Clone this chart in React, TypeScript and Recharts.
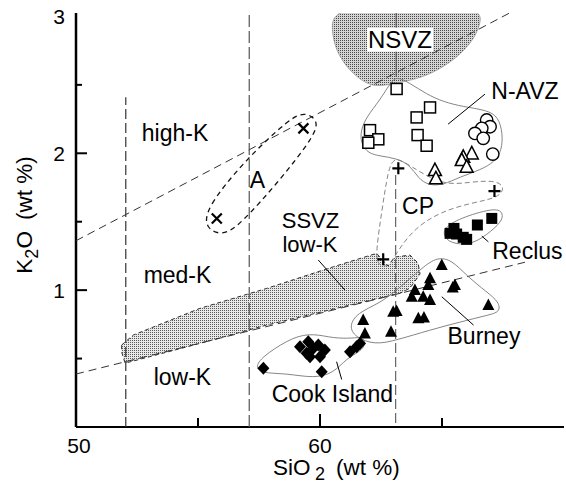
import React from "react";
import { ScatterChart, Scatter, XAxis, YAxis, Curve } from "recharts";

type Pt = { x: number; y: number };
const P = (a: number[][]): Pt[] => a.map(([x, y]) => ({ x, y }));

// SiO2 (wt %) on x, K2O (wt %) on y

// N-AVZ samples
const navzSquares = P([
  [63.14, 2.47], [64.51, 2.335], [63.96, 2.262], [62.05, 2.169],
  [62.39, 2.102], [61.98, 2.077], [64.0, 2.133], [64.37, 2.055],
]);
const navzCircles = P([
  [66.83, 2.243], [66.97, 2.194], [66.63, 2.182], [66.35, 2.145], [66.69, 2.109], [67.08, 1.994],
]);
const navzTriangles = P([
  [66.22, 1.999], [65.87, 1.974], [65.81, 1.95], [66.01, 1.901], [64.71, 1.877], [64.75, 1.817],
]);
// CP
const cpPlus = P([[63.21, 1.89], [67.15, 1.724], [62.59, 1.225]]);
// A
const aCross = P([[59.32, 2.182], [55.77, 1.524]]);
// Reclus
const reclus = P([
  [67.04, 1.524], [66.45, 1.476], [65.49, 1.451], [65.33, 1.415], [65.6, 1.41], [65.87, 1.386], [66.01, 1.371],
]);
// Burney
const burney = P([
  [64.99, 1.183], [64.51, 1.086], [64.44, 1.037], [65.53, 1.037], [65.44, 1.02], [63.89, 1.001],
  [63.76, 0.952], [64.23, 0.952], [64.51, 0.928], [66.9, 0.891], [63.0, 0.842], [63.14, 0.847],
  [64.03, 0.794], [64.26, 0.801], [61.77, 0.782], [62.91, 0.696], [61.84, 0.684],
]);
// Cook Island
const cookIsland = P([
  [57.68, 0.429], [59.18, 0.587], [59.52, 0.623], [59.73, 0.575], [59.45, 0.538], [59.93, 0.599],
  [60.2, 0.562], [59.59, 0.514], [60.0, 0.514], [60.07, 0.404], [61.23, 0.55], [61.5, 0.587], [61.64, 0.611],
]);

// field outlines
const nsvzField = P([
  [60.55, 3.1], [60.45, 2.9], [60.7, 2.72], [61.4, 2.565], [62.18, 2.481], [62.87, 2.505],
  [63.81, 2.535], [64.63, 2.586], [65.6, 2.693], [66.3, 2.83], [66.6, 2.95], [66.6, 3.1],
]);
const ssvzField = P([
  [51.87, 0.599], [52.35, 0.672], [55.08, 0.867], [57.82, 1.013], [60.55, 1.171], [62.32, 1.269],
  [62.79, 1.176], [63.07, 1.242], [63.69, 1.256], [64.02, 1.198], [64.1, 1.118], [63.69, 1.015],
  [63.28, 0.977], [60.55, 0.862], [57.82, 0.745], [55.08, 0.611], [52.35, 0.482], [52.01, 0.467], [51.87, 0.548],
]);
const navzField = P([
  [63.14, 2.564], [63.69, 2.511], [64.37, 2.432], [65.05, 2.376], [65.87, 2.34], [66.83, 2.316],
  [67.31, 2.267], [67.49, 2.145], [67.45, 2.023], [67.17, 1.938], [66.56, 1.877], [65.74, 1.828],
  [65.05, 1.768], [64.44, 1.766], [64.03, 1.817], [63.69, 1.914], [63.14, 1.963], [62.46, 1.98],
  [61.98, 1.999], [61.67, 2.072], [61.67, 2.169], [61.91, 2.267], [62.46, 2.389], [62.87, 2.511],
]);
const cpField = P([
  [62.99, 1.95], [63.28, 1.965], [64.92, 1.76], [66.15, 1.79], [67.25, 1.804], [67.58, 1.746],
  [67.3, 1.673], [66.15, 1.636], [64.92, 1.57], [63.89, 1.454], [63.2, 1.293], [62.79, 1.161],
  [62.34, 1.183], [62.3, 1.293], [62.54, 1.585], [62.79, 1.877],
]);
const reclusField = P([
  [65.12, 1.463], [65.87, 1.536], [67.24, 1.605], [67.51, 1.561], [67.45, 1.5],
  [66.83, 1.402], [66.15, 1.329], [65.33, 1.342], [65.05, 1.402],
]);
const burneyField = P([
  [64.8, 1.242], [65.41, 1.22], [66.02, 1.103], [66.84, 0.986], [67.34, 0.913], [67.38, 0.84],
  [66.89, 0.818], [65.74, 0.767], [64.51, 0.709], [63.16, 0.636], [62.25, 0.599], [61.43, 0.657],
  [61.19, 0.738], [61.52, 0.833], [62.46, 0.906], [63.16, 1.001], [64.22, 1.169],
]);
const cookField = P([
  [57.34, 0.453], [57.82, 0.538], [58.91, 0.66], [59.73, 0.684], [60.55, 0.648], [61.36, 0.648],
  [61.71, 0.66], [61.91, 0.611], [61.64, 0.55], [61.09, 0.502], [60.55, 0.392], [59.73, 0.356],
  [58.64, 0.392], [57.54, 0.392],
]);
const aField = P([
  [55.29, 1.454], [55.33, 1.6], [56.93, 1.95], [58.77, 2.257], [59.39, 2.301],
  [59.92, 2.243], [59.8, 2.133], [58.36, 1.804], [56.72, 1.476], [55.98, 1.395],
]);

// classification boundaries
const highMedK = P([[50, 1.361], [67.77, 3.025]]);
const medLowK = P([[50, 0.387], [68.4, 1.204]]);
const si52 = P([[52.04, 0], [52.04, 2.41]]);
const si57 = P([[57.1, 0], [57.1, 3.025]]);
const si63 = P([[63.1, 0.03], [63.1, 1.85]]);
const si63Top = P([[63.12, 3.025], [63.12, 2.56]]);

// label leaders
const leaders = [
  P([[65.25, 2.213], [66.76, 2.432]]),
  P([[59.93, 1.22], [61.02, 1.001]]),
  P([[66.63, 1.395], [66.9, 1.353]]),
  P([[64.99, 0.952], [66.29, 0.745]]),
  P([[60.68, 0.477], [60.89, 0.347]]),
];

const fieldLabels = [
  { x: 54.06, y: 2.15, text: "high-K" },
  { x: 54.16, y: 1.11, text: "med-K" },
  { x: 54.36, y: 0.365, text: "low-K" },
  { x: 57.44, y: 1.81, text: "A" },
  { x: 64.02, y: 1.62, text: "CP" },
  { x: 68.5, y: 1.29, text: "Reclus" },
  { x: 66.72, y: 0.665, text: "Burney" },
  { x: 60.51, y: 0.24, text: "Cook Island" },
  { x: 68.4, y: 2.46, text: "N-AVZ" },
  { x: 59.61, y: 1.51, text: "SSVZ" },
  { x: 59.59, y: 1.335, text: "low-K" },
  { x: 63.28, y: 2.83, text: "NSVZ" },
];

const xTicks = [50, 55, 60, 65, 70];
const yTicks = [0, 0.5, 1, 1.5, 2, 2.5, 3];

const FONT = '"Liberation Sans", Arial, Helvetica, sans-serif';

const none = () => <g />;

const stipple = (id: string, light: string, dark: string) => (
  <defs>
    <pattern id={id} width={2} height={2} patternUnits="userSpaceOnUse">
      <rect width={2} height={2} fill={light} />
      <rect width={1} height={1} fill={dark} />
    </pattern>
  </defs>
);

type OutlineStyle = {
  type?: string;
  fill?: string;
  stroke?: string;
  width?: number;
  dash?: string;
  defs?: React.ReactNode;
};

const outline = (s: OutlineStyle) => (p: any) => (
  <g>
    {s.defs}
    <Curve
      points={p.points}
      type={(s.type ?? "basisClosed") as any}
      fill={s.fill ?? "none"}
      stroke={s.stroke ?? "#000"}
      strokeWidth={s.width ?? 1}
      strokeDasharray={s.dash}
    />
  </g>
);

const marker = (kind: string) => (p: any) => {
  const { cx, cy } = p;
  if (cx == null || cy == null) return <g />;
  switch (kind) {
    case "openSquare":
      return <rect x={cx - 5.5} y={cy - 5.5} width={11} height={11} fill="#fff" stroke="#000" strokeWidth={1.5} />;
    case "openCircle":
      return <circle cx={cx} cy={cy} r={6.2} fill="#fff" stroke="#000" strokeWidth={1.4} />;
    case "openTriangle":
      return (
        <path d={`M${cx},${cy - 7} L${cx + 6.5},${cy + 5.5} L${cx - 6.5},${cy + 5.5} Z`} fill="#fff" stroke="#000" strokeWidth={1.5} />
      );
    case "plus":
      return <path d={`M${cx - 6},${cy} H${cx + 6} M${cx},${cy - 6} V${cy + 6}`} stroke="#000" strokeWidth={2.2} />;
    case "cross":
      return (
        <path d={`M${cx - 5},${cy - 5} L${cx + 5},${cy + 5} M${cx + 5},${cy - 5} L${cx - 5},${cy + 5}`} stroke="#000" strokeWidth={2.2} />
      );
    case "square":
      return <rect x={cx - 5.5} y={cy - 5.5} width={11} height={11} fill="#000" />;
    case "triangle":
      return <path d={`M${cx},${cy - 6.5} L${cx + 6},${cy + 5} L${cx - 6},${cy + 5} Z`} fill="#000" />;
    default:
      return <path d={`M${cx},${cy - 6.5} L${cx + 6},${cy} L${cx},${cy + 6.5} L${cx - 6},${cy} Z`} fill="#000" />;
  }
};

const labelShape = (p: any) => {
  const { cx, cy } = p;
  const text = p.payload?.text ?? p.text;
  const boxed = text === "NSVZ";
  const tight = text === "SSVZ" || (text === "low-K" && cx > 250);
  return (
    <g>
      {boxed && <rect x={cx - 33} y={cy - 12} width={66} height={24} fill="#fff" />}
      <text
        x={cx}
        y={cy}
        dy="0.36em"
        textAnchor="middle"
        fontSize={boxed ? 24 : tight ? 22 : 23}
        fontFamily={FONT}
        fill="#000"
      >
        {text}
      </text>
    </g>
  );
};

const XTick = (p: any) => {
  const { x, y, payload } = p;
  const v = payload.value;
  return (
    <g>
      {v > 50 && v < 70 && <line x1={x} x2={x} y1={y} y2={y - (v === 60 ? 13 : 9)} stroke="#000" strokeWidth={2} />}
      {(v === 50 || v === 60) && (
        <text x={x + (v === 50 ? 3 : 0)} y={y + 26} textAnchor="middle" fontSize={21} fontFamily={FONT} fill="#000">
          {v}
        </text>
      )}
    </g>
  );
};

const YTick = (p: any) => {
  const { x, y, payload } = p;
  const v = payload.value;
  const major = Number.isInteger(v);
  return (
    <g>
      {v > 0 && v < 3 && <line x1={x} x2={x + (major ? 11 : 6)} y1={y} y2={y} stroke="#000" strokeWidth={2} />}
      {major && v > 0 && (
        <text x={x - 17} y={y} dy="0.36em" textAnchor="middle" fontSize={21} fontFamily={FONT} fill="#000">
          {v}
        </text>
      )}
    </g>
  );
};

const XTitle = (p: any) => {
  const vb = p.viewBox;
  return (
    <text x={vb.x + 197} y={vb.y + 48} fontSize={22.5} fontFamily={FONT} fill="#000">
      SiO
      <tspan dx={4.5} dy={5} fontSize={18}>2</tspan>
      <tspan dx={11} dy={-5}>(wt %)</tspan>
    </text>
  );
};

const YTitle = (p: any) => {
  const vb = p.viewBox;
  const x = 32;
  const y = vb.y + vb.height / 2 - 5;
  return (
    <text x={x} y={y} transform={`rotate(-90, ${x}, ${y})`} textAnchor="middle" fontSize={22.5} fontFamily={FONT} fill="#000">
      K<tspan dy={6} fontSize={18}>2</tspan>
      <tspan dy={-6}>O</tspan>
      <tspan dx={11}>(wt %)</tspan>
    </text>
  );
};

export default function App() {
  return (
    <div style={{ position: "absolute", left: 0, top: 0, background: "#fff" }}>
      <ScatterChart width={566} height={485} margin={{ top: 13, right: 2, bottom: 0, left: 0 }}>
        <XAxis
          type="number"
          dataKey="x"
          domain={[50, 70]}
          ticks={xTicks}
          interval={0}
          allowDataOverflow
          height={58}
          tickSize={0}
          tickMargin={0}
          tickLine={false}
          tick={XTick}
          axisLine={{ stroke: "#000", strokeWidth: 2 }}
          label={XTitle}
        />
        <YAxis
          type="number"
          dataKey="y"
          domain={[0, 3.025]}
          ticks={yTicks}
          interval={0}
          allowDataOverflow
          width={76}
          tickSize={0}
          tickMargin={0}
          tickLine={false}
          tick={YTick}
          axisLine={{ stroke: "#000", strokeWidth: 2.5 }}
          label={YTitle}
        />
        <XAxis
          xAxisId="top"
          orientation="top"
          type="number"
          domain={[50, 70]}
          height={0}
          tick={false}
          tickLine={false}
          axisLine={{ stroke: "#000", strokeWidth: 2 }}
        />
        <YAxis
          yAxisId="right"
          orientation="right"
          type="number"
          domain={[0, 3.025]}
          width={0}
          tick={false}
          tickLine={false}
          axisLine={{ stroke: "#222", strokeWidth: 1.2 }}
        />

        {/* shaded fields */}
        <Scatter
          data={ssvzField}
          shape={none}
          isAnimationActive={false}
          line={outline({ type: "linearClosed", fill: "url(#ssvzDots)", stroke: "#333", width: 1, dash: "4 3", defs: stipple("ssvzDots", "#e8e8e8", "#5a5a5a") })}
        />
        <Scatter
          data={nsvzField}
          shape={none}
          isAnimationActive={false}
          line={outline({ fill: "url(#nsvzDots)", stroke: "#999", width: 0.8, defs: stipple("nsvzDots", "#d4d4d4", "#4a4a4a") })}
        />

        {/* classification boundaries */}
        <Scatter data={highMedK} shape={none} isAnimationActive={false} line={outline({ type: "linear", stroke: "#333", width: 1, dash: "8 5" })} />
        <Scatter data={medLowK} shape={none} isAnimationActive={false} line={outline({ type: "linear", stroke: "#333", width: 1, dash: "8 5" })} />
        <Scatter data={si52} shape={none} isAnimationActive={false} line={outline({ type: "linear", stroke: "#333", width: 1.2, dash: "10 4" })} />
        <Scatter data={si57} shape={none} isAnimationActive={false} line={outline({ type: "linear", stroke: "#555", width: 1.2, dash: "12 4" })} />
        <Scatter data={si63} shape={none} isAnimationActive={false} line={outline({ type: "linear", stroke: "#666", width: 1.2, dash: "10 4" })} />
        <Scatter data={si63Top} shape={none} isAnimationActive={false} line={outline({ type: "linear", stroke: "#444", width: 1 })} />

        {/* field outlines */}
        <Scatter data={navzField} shape={none} isAnimationActive={false} line={outline({ stroke: "#777", width: 0.9 })} />
        <Scatter data={cpField} shape={none} isAnimationActive={false} line={outline({ stroke: "#777", width: 0.9, dash: "5 3" })} />
        <Scatter data={reclusField} shape={none} isAnimationActive={false} line={outline({ stroke: "#777", width: 0.9 })} />
        <Scatter data={burneyField} shape={none} isAnimationActive={false} line={outline({ stroke: "#777", width: 0.9 })} />
        <Scatter data={cookField} shape={none} isAnimationActive={false} line={outline({ stroke: "#777", width: 0.9 })} />
        <Scatter data={aField} shape={none} isAnimationActive={false} line={outline({ stroke: "#111", width: 1.3, dash: "5 4" })} />

        {leaders.map((seg, i) => (
          <Scatter key={i} data={seg} shape={none} isAnimationActive={false} line={outline({ type: "linear", stroke: "#000", width: 1 })} />
        ))}

        {/* samples */}
        <Scatter data={navzSquares} shape={marker("openSquare")} isAnimationActive={false} />
        <Scatter data={navzCircles} shape={marker("openCircle")} isAnimationActive={false} />
        <Scatter data={navzTriangles} shape={marker("openTriangle")} isAnimationActive={false} />
        <Scatter data={cpPlus} shape={marker("plus")} isAnimationActive={false} />
        <Scatter data={aCross} shape={marker("cross")} isAnimationActive={false} />
        <Scatter data={reclus} shape={marker("square")} isAnimationActive={false} />
        <Scatter data={burney} shape={marker("triangle")} isAnimationActive={false} />
        <Scatter data={cookIsland} shape={marker("diamond")} isAnimationActive={false} />

        <Scatter data={fieldLabels} shape={labelShape} isAnimationActive={false} />
      </ScatterChart>
    </div>
  );
}
